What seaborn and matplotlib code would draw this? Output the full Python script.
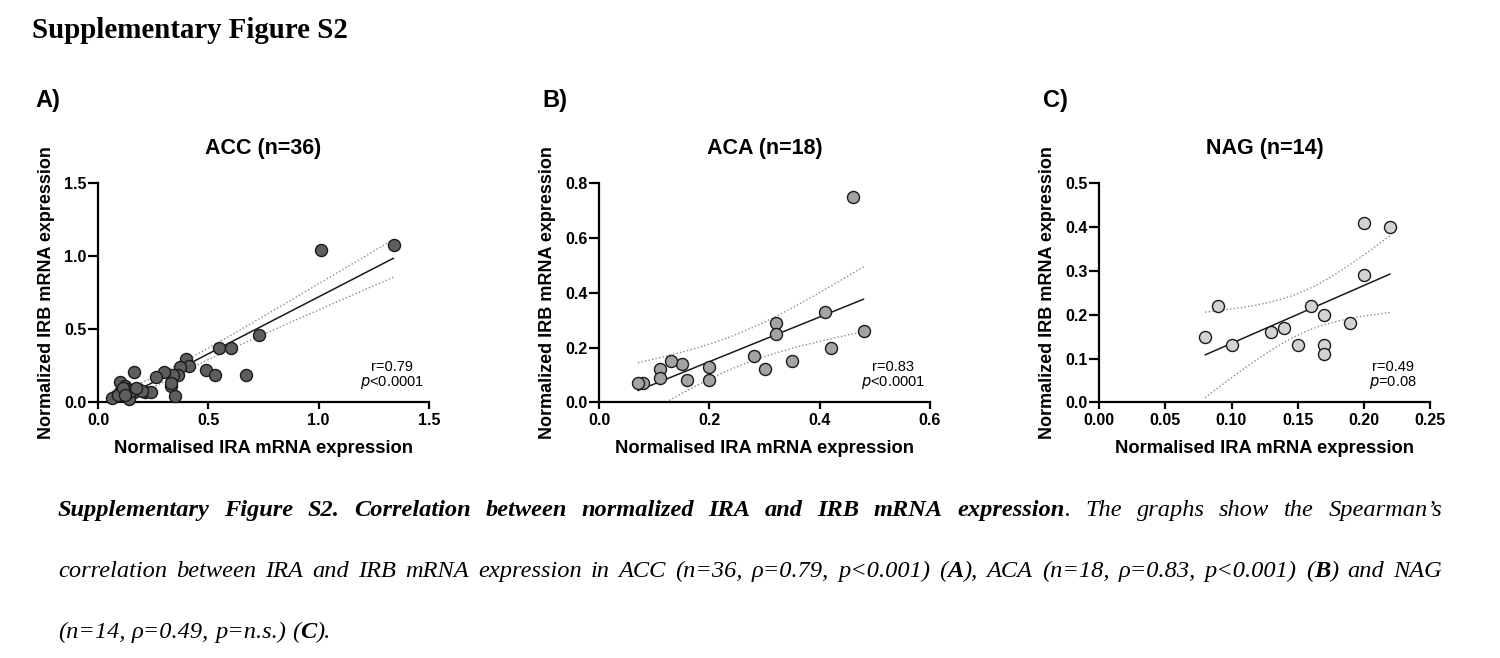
import math
import numpy as np
import pandas as pd
import matplotlib
matplotlib.use("Agg")
import matplotlib.pyplot as plt
import seaborn as sns
from matplotlib.font_manager import FontProperties

# ---------------- data ----------------
acc_ira = [1.34, 1.01, 0.73, 0.55, 0.60, 0.40, 0.41, 0.37, 0.36, 0.34, 0.49, 0.53,
           0.67, 0.30, 0.26, 0.16, 0.33, 0.35, 0.10, 0.12, 0.18, 0.21, 0.24, 0.16,
           0.10, 0.08, 0.06, 0.14, 0.33, 0.13, 0.15, 0.09, 0.20, 0.11, 0.17, 0.12]
acc_irb = [1.08, 1.04, 0.46, 0.37, 0.37, 0.30, 0.25, 0.24, 0.19, 0.19, 0.22, 0.19,
           0.19, 0.21, 0.17, 0.21, 0.11, 0.04, 0.14, 0.11, 0.09, 0.07, 0.07, 0.07,
           0.07, 0.04, 0.03, 0.02, 0.13, 0.09, 0.08, 0.05, 0.08, 0.10, 0.10, 0.05]

aca_ira = [0.46, 0.48, 0.41, 0.42, 0.32, 0.32, 0.35, 0.28, 0.30, 0.20, 0.20, 0.16,
           0.15, 0.13, 0.11, 0.11, 0.08, 0.07]
aca_irb = [0.75, 0.26, 0.33, 0.20, 0.29, 0.25, 0.15, 0.17, 0.12, 0.13, 0.08, 0.08,
           0.14, 0.15, 0.12, 0.09, 0.07, 0.07]

nag_ira = [0.20, 0.22, 0.20, 0.09, 0.16, 0.17, 0.19, 0.14, 0.13, 0.08, 0.10, 0.15,
           0.17, 0.17]
nag_irb = [0.41, 0.40, 0.29, 0.22, 0.22, 0.20, 0.18, 0.17, 0.16, 0.15, 0.13, 0.13,
           0.13, 0.11]

titles = ["ACC (n=36)", "ACA (n=18)", "NAG (n=14)"]
panel_letters = ["A)", "B)", "C)"]
r_texts = ["r=0.79", "r=0.83", "r=0.49"]
p_texts = [("<", "0.0001"), ("<", "0.0001"), ("=", "0.08")]
x_ticks = [[0.0, 0.5, 1.0, 1.5], [0.0, 0.2, 0.4, 0.6], [0.00, 0.05, 0.10, 0.15, 0.20, 0.25]]
y_ticks = [[0.0, 0.5, 1.0, 1.5], [0.0, 0.2, 0.4, 0.6, 0.8], [0.0, 0.1, 0.2, 0.3, 0.4, 0.5]]
x_fmt = ["{:.1f}", "{:.1f}", "{:.2f}"]
y_fmt = ["{:.1f}", "{:.1f}", "{:.1f}"]
fill_colors = ["#5e5e5e", "#a3a3a3", "#d3d3d3"]
xlabel = "Normalised IRA mRNA expression"
ylabel = "Normalized IRB mRNA expression"

# ---------------- helpers ----------------
def t975(df):
    c = math.exp(math.lgamma((df + 1) / 2) - math.lgamma(df / 2)) / math.sqrt(df * math.pi)
    def half(t):
        xs = np.linspace(0, t, 4001)
        return np.trapezoid(c * (1 + xs ** 2 / df) ** (-(df + 1) / 2), xs)
    lo, hi = 0.0, 10.0
    for _ in range(60):
        mid = (lo + hi) / 2
        if half(mid) < 0.475:
            lo = mid
        else:
            hi = mid
    return (lo + hi) / 2


def fit_bands(x, y):
    x = np.asarray(x, float)
    y = np.asarray(y, float)
    n = len(x)
    b, a = np.polyfit(x, y, 1)
    resid = y - (a + b * x)
    s = math.sqrt(np.sum(resid ** 2) / (n - 2))
    sxx = np.sum((x - x.mean()) ** 2)
    xs = np.linspace(x.min(), x.max(), 200)
    yh = a + b * xs
    se = s * np.sqrt(1 / n + (xs - x.mean()) ** 2 / sxx)
    t = t975(n - 2)
    return pd.DataFrame({"x": xs, "fit": yh, "lo": yh - t * se, "hi": yh + t * se})


# ---------------- figure ----------------
sns.set_theme(style="ticks")
plt.rcParams["font.family"] = ["Liberation Sans", "DejaVu Sans"]

W, H = 1500, 658
fig = plt.figure(figsize=(W / 100, H / 100), dpi=100)

lefts = [98.3, 599.3, 1099.3]
ax_w = 330.5
ax_top, ax_bot = 183.3, 402.3
letter_x = [48, 555, 1055]

datasets = [(acc_ira, acc_irb), (aca_ira, aca_irb), (nag_ira, nag_irb)]

for i, (xv, yv) in enumerate(datasets):
    ax = fig.add_axes([lefts[i] / W, 1 - ax_bot / H, ax_w / W, (ax_bot - ax_top) / H])
    df = pd.DataFrame({"IRA": xv, "IRB": yv})
    bands = fit_bands(xv, yv)

    sns.lineplot(data=bands, x="x", y="hi", ax=ax, color="#8a8a8a", lw=1.0,
                 linestyle=(0, (1, 1.6)), zorder=2)
    sns.lineplot(data=bands, x="x", y="lo", ax=ax, color="#8a8a8a", lw=1.0,
                 linestyle=(0, (1, 1.6)), zorder=2)
    sns.lineplot(data=bands, x="x", y="fit", ax=ax, color="#1a1a1a", lw=1.1, zorder=3)
    sns.scatterplot(data=df, x="IRA", y="IRB", ax=ax, s=75, color=fill_colors[i],
                    edgecolor="#1a1a1a", linewidth=1.0, zorder=4, clip_on=False)

    ax.set_xlim(x_ticks[i][0], x_ticks[i][-1])
    ax.set_ylim(y_ticks[i][0], y_ticks[i][-1])
    ax.set_xticks(x_ticks[i])
    ax.set_yticks(y_ticks[i])
    ax.set_xticklabels([x_fmt[i].format(v) for v in x_ticks[i]])
    ax.set_yticklabels([y_fmt[i].format(v) for v in y_ticks[i]])
    for sp in ["top", "right"]:
        ax.spines[sp].set_visible(False)
    for sp in ["left", "bottom"]:
        ax.spines[sp].set_linewidth(1.6)
        ax.spines[sp].set_color("black")
    ax.tick_params(axis="both", direction="out", width=1.6, color="black", labelsize=11.5)
    ax.tick_params(axis="x", length=5, pad=2.5)
    ax.tick_params(axis="y", length=7, pad=1.5)
    for lab in ax.get_xticklabels() + ax.get_yticklabels():
        lab.set_fontweight("bold")
        lab.set_color("black")
    ax.set_facecolor("none")

    ax.set_xlabel(xlabel, fontsize=13.2, fontweight="bold", color="black")
    ax.set_ylabel(ylabel, fontsize=13, fontweight="bold", color="black")
    ax.xaxis.set_label_coords(0.5, -0.17)
    ax.yaxis.set_label_coords(-0.13, 0.5)

    ax.text(0.5, 1.161, titles[i], transform=ax.transAxes, ha="center", va="center",
            fontsize=15.5, fontweight="bold", color="black")
    ax.text(0.889, 0.163, r_texts[i], transform=ax.transAxes, ha="center", va="center",
            fontsize=10.5, color="black")
    ax.text(0.889, 0.090, r"$\it{p}$" + p_texts[i][0] + p_texts[i][1], transform=ax.transAxes,
            ha="center", va="center", fontsize=10.5, color="black")

    fig.text(letter_x[i] / W, 1 - 101 / H, panel_letters[i], ha="center", va="center",
             fontsize=17, fontweight="bold", color="black")

# ---------------- heading and caption ----------------
fig.text(32 / W, 1 - 30 / H, "Supplementary Figure S2", ha="left", va="center",
         fontsize=20.8, fontweight="bold", family="Liberation Serif", color="black")

cap_lines = [
    [("Supplementary Figure S2. Correlation between normalized IRA and IRB mRNA expression", True),
     (". The graphs show the Spearman\u2019s", False)],
    [("correlation between IRA and IRB mRNA expression in ACC (n=36, \u03c1=0.79, p<0.001) (", False),
     ("A", True), ("), ACA (n=18, \u03c1=0.83, p<0.001) (", False), ("B", True), (") and NAG", False)],
    [("(n=14, \u03c1=0.49, p=n.s.) (", False), ("C", True), (").", False)],
]
baselines = [516, 577, 638]
justify = [True, True, False]
cap_x0, cap_x1 = 58, 1442
cap_size = 17.6

fp_reg = FontProperties(family="Liberation Serif", style="italic", size=cap_size)
fp_bold = FontProperties(family="Liberation Serif", style="italic", weight="bold", size=cap_size)

renderer = fig.canvas.get_renderer()

def measure(txt, fp):
    t = fig.text(0, 0, txt, fontproperties=fp)
    w = t.get_window_extent(renderer).width
    t.remove()
    return w

space_w = measure("a a", fp_reg) - measure("aa", fp_reg)

for segs, base, just in zip(cap_lines, baselines, justify):
    words = [[]]
    for text, bold in segs:
        parts = text.split(" ")
        for k, p in enumerate(parts):
            if k > 0:
                words.append([])
            if p:
                words[-1].append((p, bold))
    words = [w for w in words if w]
    widths = []
    for w in words:
        widths.append([measure(p, fp_bold if b else fp_reg) for p, b in w])
    total = sum(sum(ws) for ws in widths)
    gap = (cap_x1 - cap_x0 - total) / (len(words) - 1) if just else space_w
    x = cap_x0
    for w, ws in zip(words, widths):
        for (p, b), pw in zip(w, ws):
            fig.text(x / W, 1 - base / H, p, fontproperties=fp_bold if b else fp_reg,
                     ha="left", va="baseline", color="black")
            x += pw
        x += gap

fig.savefig("out.png", dpi=100, facecolor="white")
